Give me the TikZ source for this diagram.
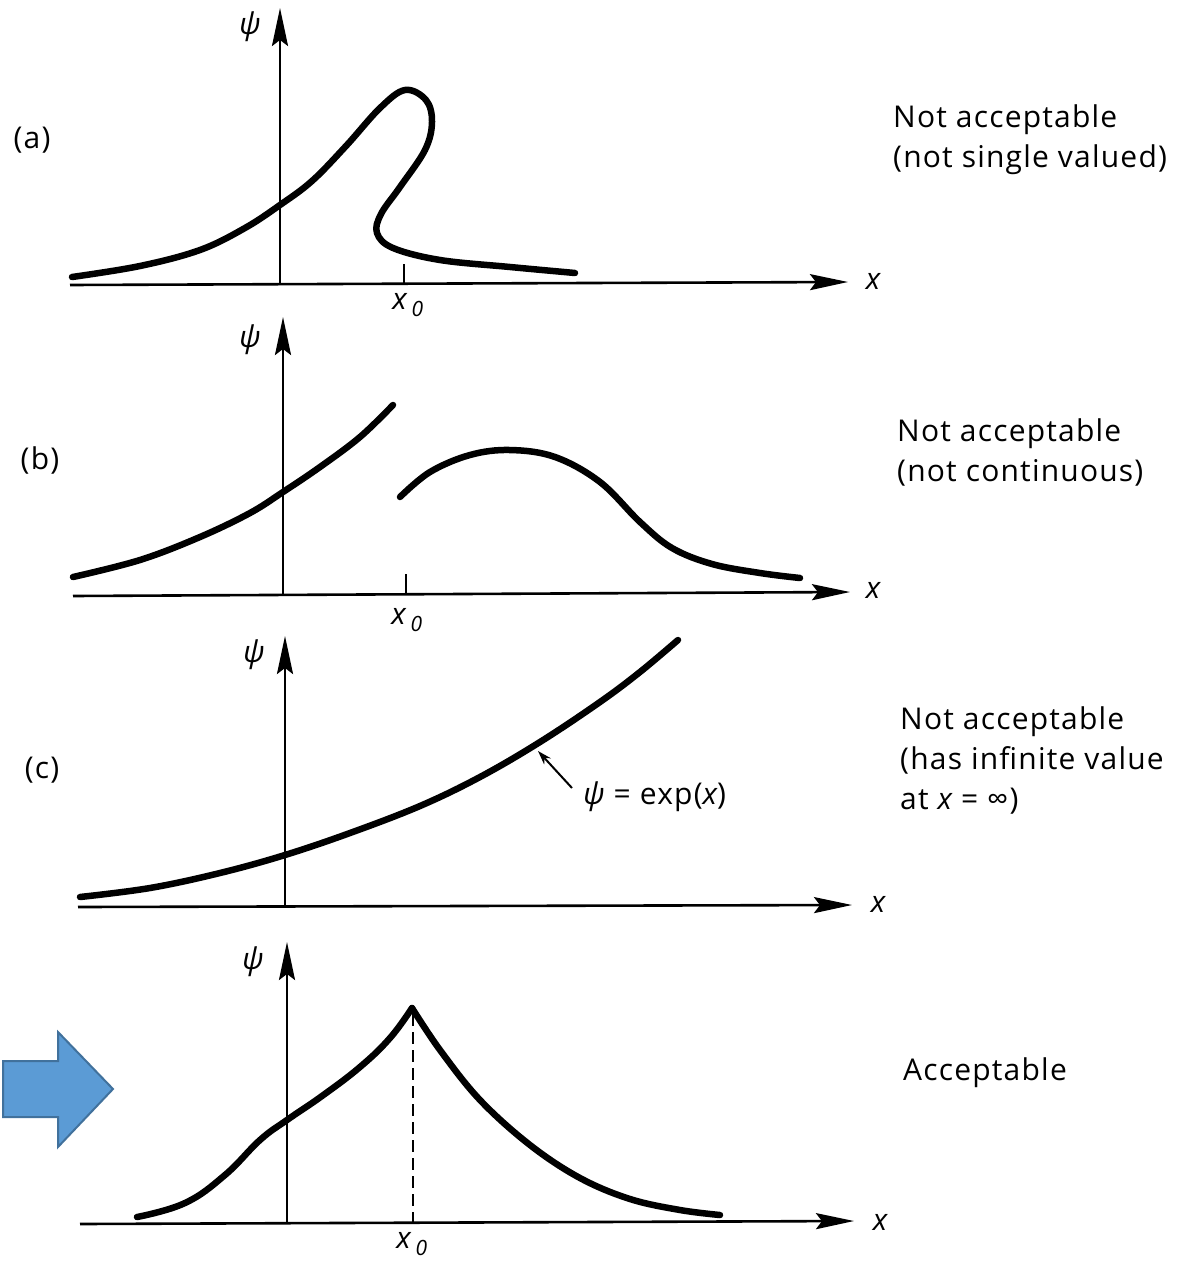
\documentclass[tikz,border=0pt]{standalone}
\usepackage{fontspec}
\setmainfont[LetterSpace=4]{Open Sans}
\usetikzlibrary{arrows.meta}

\definecolor{arrowblue}{HTML}{5B9BD5}
\definecolor{arrowedge}{HTML}{41719C}

\begin{document}
\begin{tikzpicture}[
  x=1pt, y=-1pt,
  font=\fontsize{30}{40}\selectfont,
  axis/.style={-{Stealth[length=38pt,width=16pt,inset=6pt]}, line width=2.6pt},
  wave/.style={line width=6.5pt, line cap=round, line join=round},
  tick/.style={line width=2pt},
  note/.style={anchor=west, align=left, inner sep=0pt},
  tag/.style={inner sep=0pt},
  pointer/.style={-{Stealth[length=14pt,width=9pt]}, line width=2pt}
]
\useasboundingbox (0,0) rectangle (1196,1263);

% (a) not single valued
\draw[axis] (70,285) -- (848,282);
\draw[axis] (280,285) -- (280,8);
\draw[tick] (404,284) -- (404,264);
\draw[wave] plot[smooth, tension=0.6] coordinates {(72,277) (140,266) (200,250) (245,228) (280,205)
  (312,181) (346,146) (380,108) (405,90) (426,100) (432,122) (425,150) (400,187) (381,214)
  (377,233) (393,248) (440,260) (510,267) (575,273)};
\node[tag] (taga) at (32,140) {(a)};
\node[tag] (psia) at (250,27) {\itshape ψ};
\node[tag] (xa) at (873,281) {\itshape x};
\node[tag] (x0a) at (408,305) {\itshape x\,\textsubscript{0}};
\node[note] (texta) at (893,140) {Not acceptable\\(not single valued)};

% (b) not continuous
\draw[axis] (73,596) -- (850,592);
\draw[axis] (283,595) -- (283,317);
\draw[tick] (406,594) -- (406,574);
\draw[wave] plot[smooth, tension=0.6] coordinates {(73,577) (140,560) (200,537) (250,513) (283,492)
  (320,467) (360,437) (393,405)};
\draw[wave] plot[smooth, tension=0.6] coordinates {(400,497) (430,472) (470,455) (510,450) (555,457)
  (600,482) (640,522) (672,548) (712,564) (760,573) (800,578)};
\node[tag] (tagb) at (40,460) {(b)};
\node[tag] (psib) at (250,340) {\itshape ψ};
\node[tag] (xb) at (873,590) {\itshape x};
\node[tag] (x0b) at (407,620) {\itshape x\,\textsubscript{0}};
\node[note] (textb) at (897,452) {Not acceptable\\(not continuous)};

% (c) infinite at x = infinity
\draw[axis] (78,907) -- (852,905);
\draw[axis] (285,907) -- (285,636);
\draw[wave] plot[smooth, tension=0.6] coordinates {(80,897) (150,888) (220,873) (285,855) (350,833)
  (420,806) (480,777) (540,742) (600,702) (640,672) (678,640)};
\coordinate (expfoot) at (572,788);
\coordinate (exptip) at (538,751);
\draw[pointer] (expfoot) -- (exptip);
\node[tag, anchor=west] (explabel) at (583,797) {\itshape ψ\upshape\ = exp(\itshape x\upshape)};
\node[tag] (tagc) at (42,770) {(c)};
\node[tag] (psic) at (254,655) {\itshape ψ};
\node[tag] (xc) at (878,904) {\itshape x};
\node[note] (textc) at (900,760) {Not acceptable\\(has infinite value\\at \itshape x\upshape\ = ∞)};

% (d) acceptable
\draw[axis] (80,1224) -- (854,1221);
\draw[axis] (287,1223) -- (287,942);
\draw[line width=2.4pt, dash pattern=on 12pt off 6pt] (413,1014) -- (413,1222);
\draw[wave] plot[smooth, tension=0.7] coordinates {(137,1217) (185,1203) (225,1175) (260,1140)
  (287,1120) (322,1096) (360,1067) (390,1038) (412,1008)};
\draw[wave] plot[smooth, tension=0.6] coordinates {(412,1008) (440,1050) (480,1100) (530,1145)
  (580,1178) (630,1199) (680,1210) (720,1215)};
\node[tag] (psid) at (253,962) {\itshape ψ};
\node[tag] (xd) at (880,1222) {\itshape x};
\node[tag] (x0d) at (412,1244) {\itshape x\,\textsubscript{0}};
\node[note] (textd) at (903,1073) {Acceptable};

% marker arrow
\draw[fill=arrowblue, draw=arrowedge, line width=2pt, line join=miter]
  (3,1061) -- (58,1061) -- (58,1032) -- (113,1089) -- (58,1147) -- (58,1117) -- (3,1117) -- cycle;

\end{tikzpicture}
\end{document}
